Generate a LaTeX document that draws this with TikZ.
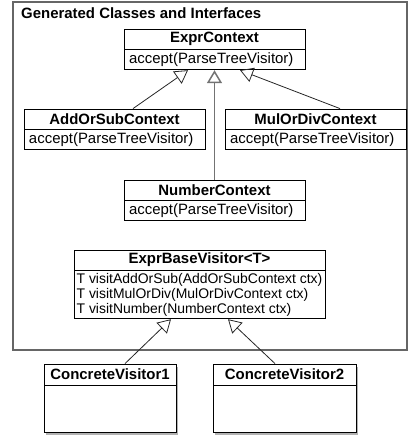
\documentclass[tikz,border=0pt]{standalone}
\usepackage{fontspec}
\setmainfont{Liberation Sans}
\usetikzlibrary{arrows.meta,shadows}
\newcommand{\umlfont}{\fontsize{15}{15}\selectfont}
\newcommand{\umlsmall}{\fontsize{14}{15}\selectfont}

\begin{document}
\begin{tikzpicture}[x=1bp, y=-1bp, font=\umlfont,
  classname/.style={draw, fill=white, line width=0.8bp, minimum height=20bp, inner sep=0pt, font=\umlfont\bfseries},
  classbody/.style={draw, fill=white, line width=0.8bp, anchor=north, minimum height=20bp, inner xsep=5bp, inner ysep=0pt, align=left},
  generalize/.style={draw=black!85, line width=0.8bp, -{Triangle[open, length=13bp, width=15bp]}},
  shadowed/.style={drop shadow={shadow xshift=2bp, shadow yshift=-2.5bp, fill=black!60}}]
\useasboundingbox (0,0) rectangle (408,435);
\node[draw=black!60, line width=1.2bp, minimum width=394bp, minimum height=348bp, inner sep=0pt] (pkg) at (210,176) {};
\node[anchor=base west, inner sep=0pt, font=\umlfont\bfseries] (pkglabel) at (21,19) {Generated Classes and Interfaces};
\node[classname, minimum width=181bp] (ectx) at (214.5,39) {ExprContext};
\node[classbody, text width=171bp] (ectxb) at (ectx.south) {accept(ParseTreeVisitor)};
\node[classname, minimum width=181bp] (addctx) at (114.5,119) {AddOrSubContext};
\node[classbody, text width=171bp] (addctxb) at (addctx.south) {accept(ParseTreeVisitor)};
\node[classname, minimum width=181bp] (mulctx) at (315.5,119) {MulOrDivContext};
\node[classbody, text width=171bp] (mulctxb) at (mulctx.south) {accept(ParseTreeVisitor)};
\node[classname, minimum width=181bp] (numctx) at (214.5,190) {NumberContext};
\node[classbody, text width=171bp] (numctxb) at (numctx.south) {accept(ParseTreeVisitor)};
\node[classname, minimum width=251bp] (basev) at (199.5,260) {ExprBaseVisitor<T>};
\node[classbody, font=\umlsmall, minimum width=251bp, inner xsep=0pt, minimum height=48bp] (basevb) at (basev.south) {T visitAddOrSub(AddOrSubContext ctx)\\T visitMulOrDiv(MulOrDivContext ctx)\\T visitNumber(NumberContext ctx)};
\node[classname, shadowed, minimum width=132bp, minimum height=21bp] (cv1) at (110,374.5) {ConcreteVisitor1};
\node[classbody, shadowed, text width=122bp, minimum height=47bp] (cv1b) at (cv1.south) {};
\node[classname, shadowed, minimum width=143bp, minimum height=21bp] (cv2) at (284.5,374.5) {ConcreteVisitor2};
\node[classbody, shadowed, text width=133bp, minimum height=47bp] (cv2b) at (cv2.south) {};
\draw[generalize] ([xshift=18.5bp]addctx.north) -- ([xshift=-26.5bp]ectxb.south);
\draw[generalize, draw=black!55, line width=1.5bp] (numctx.north) -- (ectxb.south);
\draw[generalize] ([xshift=24.5bp]mulctx.north) -- ([xshift=25.5bp]ectxb.south);
\draw[generalize] ([xshift=15bp]cv1.north) -- ([xshift=-28.5bp]basevb.south);
\draw[generalize] ([xshift=-9.5bp]cv2.north) -- ([xshift=28.5bp]basevb.south);
\end{tikzpicture}
\end{document}
